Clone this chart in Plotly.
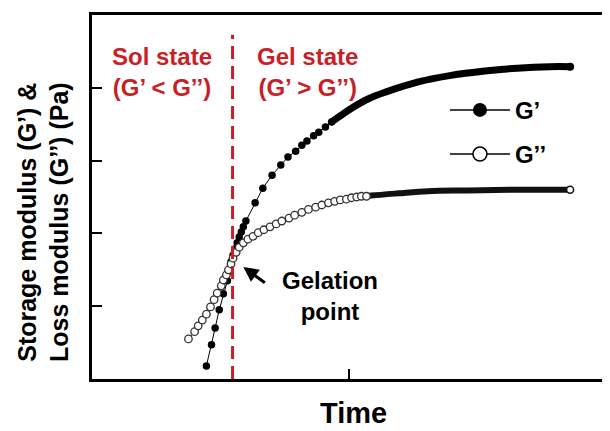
import plotly.graph_objects as go

# ---- data (time and modulus in arbitrary units) ----
g1_time = [2.23, 2.33, 2.40, 2.48, 2.56, 2.64, 2.67, 2.71, 2.75, 2.79, 2.83, 2.87, 2.91, 2.95,
           3.00, 3.18, 3.33, 3.51, 3.68, 3.82, 3.97, 4.09, 4.19, 4.32, 4.42, 4.55, 4.67]
g1_value = [0.18, 0.47, 0.70, 0.95, 1.17, 1.35, 1.48, 1.61, 1.70, 1.79, 1.87, 1.95, 2.02, 2.09,
            2.17, 2.42, 2.62, 2.80, 2.94, 3.05, 3.13, 3.21, 3.27, 3.34, 3.39, 3.46, 3.53]
g1_tail_time = [4.67, 4.81, 5.06, 5.39, 5.72, 6.36, 7.00, 7.66, 8.29, 8.93, 9.32]
g1_tail_value = [3.53, 3.60, 3.72, 3.85, 3.94, 4.08, 4.17, 4.23, 4.27, 4.29, 4.29]

g2_time = [1.88, 2.00, 2.07, 2.15, 2.23, 2.31, 2.38, 2.44, 2.52, 2.56, 2.62, 2.66, 2.71, 2.75,
           2.81, 2.87, 2.95, 3.04, 3.14, 3.24, 3.35, 3.47, 3.59, 3.70, 3.84, 3.95, 4.09, 4.22,
           4.36, 4.48, 4.61, 4.73, 4.84, 4.96, 5.06, 5.16, 5.25, 5.35]
g2_value = [0.55, 0.65, 0.73, 0.81, 0.89, 0.99, 1.09, 1.18, 1.28, 1.36, 1.43, 1.50, 1.58, 1.66,
            1.74, 1.81, 1.87, 1.92, 1.96, 2.01, 2.05, 2.09, 2.13, 2.17, 2.21, 2.25, 2.29, 2.33,
            2.36, 2.39, 2.42, 2.44, 2.46, 2.47, 2.49, 2.50, 2.51, 2.51]
g2_tail_time = [5.19, 5.45, 5.97, 6.55, 7.33, 8.29, 9.32]
g2_tail_value = [2.50, 2.52, 2.55, 2.58, 2.59, 2.60, 2.60]

gelation_time = 2.74
gelation_line_top = 4.73
gelation_arrow_point = (2.95, 1.54)

x_ticks = [5]
y_ticks = [1, 2, 3, 4]
series_names = ["G’", "G’’"]

RED = "#c81f28"
FONT = "Liberation Sans, Arial, sans-serif"

fig = go.Figure()

# G' tail (dense merged markers) and points
fig.add_trace(go.Scatter(x=g1_tail_time, y=g1_tail_value, mode="lines",
                         line=dict(color="black", width=7, shape="spline"),
                         showlegend=False, hoverinfo="skip"))
fig.add_trace(go.Scatter(x=g1_time, y=g1_value, mode="lines+markers",
                         line=dict(color="black", width=1),
                         marker=dict(symbol="circle", size=7.5, color="black"),
                         showlegend=False))
fig.add_trace(go.Scatter(x=g1_tail_time[-1:], y=g1_tail_value[-1:], mode="markers",
                         marker=dict(symbol="circle", size=8, color="black"),
                         showlegend=False, hoverinfo="skip"))

# G'' tail and points
fig.add_trace(go.Scatter(x=g2_tail_time, y=g2_tail_value, mode="lines",
                         line=dict(color="#111111", width=6, shape="spline"),
                         showlegend=False, hoverinfo="skip"))
fig.add_trace(go.Scatter(x=g2_time, y=g2_value, mode="lines+markers",
                         line=dict(color="#222222", width=1),
                         marker=dict(symbol="circle", size=7.5, color="white",
                                     line=dict(color="#333333", width=1.3)),
                         showlegend=False))
fig.add_trace(go.Scatter(x=g2_tail_time[-1:], y=g2_tail_value[-1:], mode="markers",
                         marker=dict(symbol="circle", size=7, color="white",
                                     line=dict(color="#111111", width=1.5)),
                         showlegend=False, hoverinfo="skip"))

# legend entries
fig.add_trace(go.Scatter(x=[None], y=[None], mode="lines+markers", name=series_names[0],
                         line=dict(color="black", width=1.5),
                         marker=dict(symbol="circle", size=14, color="black"),
                         legendgroup="a"))
fig.add_trace(go.Scatter(x=[None], y=[None], mode="lines+markers", name=series_names[1],
                         line=dict(color="black", width=1.5),
                         marker=dict(symbol="circle", size=14, color="white",
                                     line=dict(color="black", width=1.5)),
                         legendgroup="b"))

# gelation dashed line
fig.add_trace(go.Scatter(x=[gelation_time, gelation_time], y=[0, gelation_line_top],
                         mode="lines", line=dict(color=RED, width=3, dash="13px,7px"),
                         showlegend=False, hoverinfo="skip"))

axis_common = dict(showline=True, linecolor="black", linewidth=2.5, mirror=True,
                   ticks="inside", ticklen=10, tickwidth=2, tickcolor="black",
                   showticklabels=False, showgrid=False, zeroline=False)

# the page body has an 8px default margin, so the figure is sized/offset to compensate
fig.update_layout(
    width=602, height=423,
    margin=dict(l=84, r=2, t=7, b=52),
    paper_bgcolor="white", plot_bgcolor="white",
    font=dict(family=FONT, color="black"),
    xaxis=dict(range=[0, 10], tickvals=x_ticks, **axis_common),
    yaxis=dict(range=[0, 5], tickvals=y_ticks, **axis_common),
    legend=dict(x=0.688, y=0.8, xanchor="left", yanchor="top",
                bgcolor="rgba(0,0,0,0)", tracegroupgap=10, itemwidth=60,
                font=dict(size=24, weight="bold", family=FONT)),
    annotations=[
        dict(text="Sol state<br>(G’ &lt; G’’)", x=1.36, y=4.22, xref="x", yref="y",
             showarrow=False, font=dict(size=24, color=RED, weight="bold", family=FONT)),
        dict(text="Gel state<br>(G’ &gt; G’’)", x=4.21, y=4.22, xref="x", yref="y",
             showarrow=False, font=dict(size=24, color=RED, weight="bold", family=FONT)),
        dict(text="Gelation<br>point", x=4.63, y=1.14, xref="x", yref="y",
             showarrow=False, font=dict(size=24, weight="bold", family=FONT)),
        dict(text="", x=gelation_arrow_point[0], y=gelation_arrow_point[1], xref="x", yref="y",
             showarrow=True, ax=23, ay=17, arrowhead=2, arrowsize=1, arrowwidth=3,
             arrowcolor="black", standoff=0),
        dict(text="Storage modulus (G’) &amp;<br>Loss modulus (G’’) (Pa)",
             x=-0.095, y=0.432, xref="paper", yref="paper", textangle=-90,
             xanchor="center", yanchor="middle", showarrow=False,
             font=dict(size=25, weight="bold", family=FONT)),
        dict(text="Time", x=0.51, y=-0.045, xref="paper", yref="paper",
             xanchor="center", yanchor="top", showarrow=False,
             font=dict(size=29, weight="bold", family=FONT)),
    ],
)

fig.write_html("out.html")
